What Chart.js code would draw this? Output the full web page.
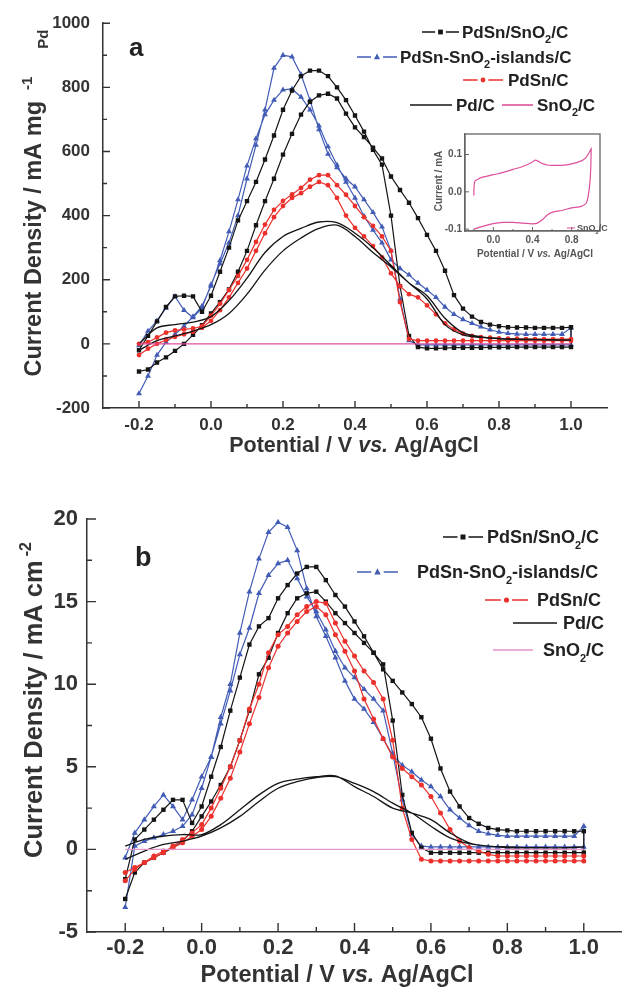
<!DOCTYPE html>
<html>
<head>
<meta charset="utf-8">
<script src="https://cdn.jsdelivr.net/npm/chart.js@4.4.1/dist/chart.umd.min.js"></script>
<style>
  body { margin: 0; background: #fff; }
  #wrap { position: relative; width: 622px; height: 997px; overflow: hidden; }
  canvas { position: absolute; left: 0; }
</style>
</head>
<body>
<div id="wrap">
  <canvas id="chartA" width="622" height="470" style="top:0"></canvas>
  <canvas id="chartB" width="622" height="527" style="top:470px"></canvas>
  <canvas id="inset" width="195" height="140" style="left:415px;top:125px"></canvas>
</div>
<script>
// potential grid (V vs Ag/AgCl), both sweeps share it
const E = [-0.2,-0.175,-0.15,-0.125,-0.1,-0.075,-0.05,-0.025,0,0.025,0.05,0.075,0.1,0.125,0.15,0.175,0.2,0.225,0.25,0.275,0.3,0.325,0.35,0.375,0.4,0.425,0.45,0.475,0.5,0.525,0.55,0.575,0.6,0.625,0.65,0.675,0.7,0.725,0.75,0.775,0.8,0.825,0.85,0.875,0.9,0.925,0.95,0.975,1.0];
const pdE = [-0.2,-0.15,-0.1,-0.05,0,0.05,0.1,0.15,0.2,0.25,0.3,0.35,0.4,0.45,0.5,0.55,0.6,0.65,0.7,0.75,0.8,0.85,0.9,0.95,1.0];
const snE = [-0.2, 1.0];

// panel a : mA mg-1 Pd  (branch 1 / branch 2 of each loop)
const aBlack1 = [-86,-80,-58,-42,-22,0,28,58,95,130,170,225,290,370,445,515,590,655,715,755,775,780,765,718,675,645,612,578,522,480,440,392,340,290,228,152,110,85,68,60,55,52,51,51,50,50,50,50,52];
const aBlack2 = [-20,25,70,115,148,150,148,100,150,225,300,385,445,505,575,650,730,790,835,852,852,835,800,760,712,662,605,559,400,180,25,-10,-14,-14,-13,-12,-12,-12,-12,-11,-11,-11,-10,-10,-10,-10,-10,-10,-10];
const aBlue1 = [-155,-100,-35,5,30,55,85,118,180,260,350,450,555,640,715,760,792,795,770,730,680,615,558,505,455,398,355,315,262,235,215,190,168,145,115,92,76,64,53,44,37,33,31,30,30,30,30,30,50];
const aBlue2 = [-5,40,72,112,148,105,82,112,185,250,315,400,515,620,730,860,900,895,840,760,668,592,550,515,490,450,410,365,290,140,10,-3,-3,-3,-3,-3,-3,-3,-3,-3,-3,-3,-3,-3,-3,-3,-3,-3,-3];
const aRed1 = [-35,-15,0,12,22,30,38,50,72,105,145,190,235,290,345,395,430,455,470,490,505,495,455,400,362,335,305,270,220,180,155,145,120,92,64,45,32,25,21,19,17,16,16,15,15,15,15,15,15];
const aRed2 = [0,5,20,35,42,45,48,55,88,125,168,212,262,318,372,418,446,466,486,512,526,526,495,465,430,395,368,335,290,130,15,10,10,10,10,10,10,10,10,10,10,10,10,10,10,10,10,10,10];
const aPd1 = [-20,10,25,40,60,95,155,230,290,330,360,370,335,285,240,190,150,80,35,22,17,15,14,13,12];
const aPd2 = [0,50,60,68,85,135,205,285,335,360,380,378,345,300,245,190,140,60,28,20,16,14,13,12,12];
const aSn = [0, 0];

// panel b : mA cm-2
const bBlack1 = [-3.0,-1.4,-0.8,-0.5,-0.2,0.1,0.5,1.1,2.0,2.9,3.9,5.0,6.6,8.4,10.6,11.6,13.1,14.3,15.2,15.5,15.6,15.0,14.3,13.7,13.1,12.5,11.9,11.2,7.8,3.3,1.0,0.1,-0.2,-0.2,-0.2,-0.2,-0.2,-0.2,-0.2,-0.2,-0.2,-0.2,-0.2,-0.2,-0.2,-0.2,-0.2,-0.2,-0.2];
const bBlack2 = [-1.8,0.6,1.2,1.8,2.4,3.0,3.0,1.6,2.6,4.4,6.2,8.4,10.4,12.4,13.5,14.0,15.2,16.0,16.7,17.1,17.1,16.3,15.4,14.7,13.8,12.9,11.9,10.9,10.2,9.5,8.8,8.0,6.7,4.9,3.5,2.6,1.9,1.55,1.3,1.2,1.15,1.1,1.1,1.1,1.1,1.1,1.1,1.1,1.1];
const bBlue1 = [-3.5,0.2,0.5,0.7,0.9,1.1,1.4,2.1,3.7,5.6,7.6,9.6,11.8,13.4,15.5,16.6,17.3,17.5,16.4,15.3,14.4,13.3,12.0,11.0,10.4,9.7,9.1,8.4,5.8,3.0,0.9,0.2,0.15,0.15,0.15,0.15,0.15,0.15,0.15,0.15,0.15,0.15,0.15,0.15,0.15,0.15,0.15,0.15,0.15];
const bBlue2 = [-0.5,1.0,1.8,2.6,3.3,2.6,1.8,3.0,4.4,5.6,8.0,10.0,13.1,15.6,17.6,19.2,19.8,19.5,18.1,15.8,14.1,12.9,11.6,10.2,9.1,8.5,7.7,6.7,5.7,5.1,4.7,4.2,3.8,3.2,2.4,1.9,1.45,1.1,0.95,0.85,0.8,0.8,0.8,0.8,0.8,0.8,0.8,0.8,1.4];
const bRed1 = [-1.9,-1.2,-0.8,-0.4,-0.1,0.1,0.4,0.8,1.2,2.0,3.1,4.3,5.9,7.6,9.2,11.0,12.3,13.1,13.8,14.4,14.7,14.2,13.0,12.0,10.8,9.1,7.9,6.7,5.6,4.9,4.4,3.9,3.2,2.2,1.2,0.5,0.1,-0.1,-0.3,-0.4,-0.4,-0.4,-0.4,-0.4,-0.4,-0.4,-0.4,-0.4,-0.4];
const bRed2 = [-1.4,-1.1,-0.8,-0.5,-0.2,0.2,0.6,1.0,1.5,2.5,3.7,5.0,6.6,8.5,10.0,11.9,13.0,13.5,14.2,14.7,15.0,14.9,13.7,12.6,11.7,10.8,10.1,9.1,6.6,2.5,0.6,-0.6,-0.7,-0.7,-0.7,-0.7,-0.7,-0.7,-0.7,-0.7,-0.7,-0.7,-0.7,-0.7,-0.7,-0.7,-0.7,-0.7,-0.7];
const bPd1 = [-0.6,-0.1,0.3,0.5,0.8,1.3,2.0,2.9,3.7,4.1,4.35,4.4,4.0,3.5,2.8,2.2,1.4,0.7,0.35,0.2,0.1,0.1,0.1,0.1,0.15];
const bPd2 = [0.2,0.6,0.8,0.9,0.9,1.5,2.4,3.3,4.0,4.25,4.4,4.45,3.8,3.2,2.5,2.2,1.8,1.0,0.4,0.2,0.15,0.1,0.1,0.1,0.15];
const bSn = [0, 0];

// inset: SnO2/C, current / mA
const insetE1 = [-0.2,-0.19,-0.15,-0.1,0,0.1,0.2,0.3,0.4,0.43,0.5,0.55,0.6,0.7,0.8,0.9,0.95,1.0];
const insetI1 = [-0.01,0.028,0.035,0.04,0.046,0.052,0.06,0.068,0.08,0.085,0.076,0.072,0.071,0.071,0.075,0.083,0.093,0.115];
const insetE2 = [1.0,0.995,0.985,0.97,0.95,0.9,0.8,0.7,0.6,0.55,0.5,0.45,0.4,0.3,0.2,0.1,0,-0.1,-0.2];
const insetI2 = [0.115,0.06,0.02,-0.01,-0.03,-0.039,-0.043,-0.05,-0.055,-0.062,-0.075,-0.084,-0.086,-0.084,-0.082,-0.082,-0.085,-0.092,-0.1];

// ticks
const xMajor = [-0.2,0,0.2,0.4,0.6,0.8,1.0];
const xMinor = [-0.1,0.1,0.3,0.5,0.7,0.9];
const aYMajor = [-200,0,200,400,600,800,1000];
const aYMinor = [-100,100,300,500,700,900];
const bYMajor = [-5,0,5,10,15,20];
const bYMinor = [-2.5,2.5,7.5,12.5,17.5];
const inXMajor = [0,0.4,0.8];
const inXMinor = [-0.2,0.2,0.6,1.0];
const inYMajor = [-0.1,0,0.1];

// names
const nPdSnSnO2 = [{t:'PdSn/SnO'},{t:'2',sub:true},{t:'/C'}];
const nIslands = [{t:'PdSn-SnO'},{t:'2',sub:true},{t:'-islands/C'}];
const nPdSn = [{t:'PdSn/C'}];
const nPd = [{t:'Pd/C'}];
const nSn = [{t:'SnO'},{t:'2',sub:true},{t:'/C'}];
const xTitle = [{t:'Potential / V '},{t:'vs.',it:true},{t:' Ag/AgCl'}];

const BLACK = '#151515', BLUE = 'rgb(66,92,182)', RED = 'rgb(236,48,44)';
const PINK_A = 'rgb(222,80,155)', PINK_B = 'rgb(228,150,205)', AXIS = '#333';
const FONT = '"Liberation Sans", Arial, sans-serif';
Chart.defaults.font.family = FONT;

function loop(xs, one, two) {
  const pts = one.map((v, i) => ({x: xs[i], y: v}));
  for (let i = xs.length - 1; i >= 0; i--) pts.push({x: xs[i], y: two[i]});
  return pts;
}

function series(data, color, style, r, width) {
  return {
    data: data, showLine: true, borderColor: color, borderWidth: width || 1.2,
    pointStyle: style || 'circle', pointRadius: style ? r : 0, pointHoverRadius: 0,
    pointBackgroundColor: color, pointBorderColor: color, pointBorderWidth: 0,
    tension: style ? 0 : 0.35, fill: false
  };
}

function rich(ctx, parts, x, y, size, align) {
  const fontOf = p => (p.it ? 'italic ' : '') + 'bold ' + ((p.sub || p.sup) ? Math.round(size * 0.62) : size) + 'px ' + FONT;
  let w = 0;
  parts.forEach(p => { ctx.font = fontOf(p); w += (p.gap || 0) + ctx.measureText(p.t).width; });
  let cx = align === 'center' ? x - w / 2 : align === 'right' ? x - w : x;
  ctx.textAlign = 'left';
  ctx.textBaseline = 'alphabetic';
  parts.forEach(p => {
    ctx.font = fontOf(p);
    cx += p.gap || 0;
    const dy = p.sub ? size * 0.28 : p.sup ? -size * 0.42 : 0;
    ctx.fillText(p.t, cx, y + dy);
    cx += ctx.measureText(p.t).width;
  });
}

function marker(ctx, kind, x, y, r) {
  ctx.beginPath();
  if (kind === 'rect') ctx.rect(x - r, y - r, 2 * r, 2 * r);
  else if (kind === 'triangle') { ctx.moveTo(x, y - r * 1.2); ctx.lineTo(x + r, y + r * 0.75); ctx.lineTo(x - r, y + r * 0.75); ctx.closePath(); }
  else ctx.arc(x, y, r, 0, Math.PI * 2);
  ctx.fill();
}

function decor(o) {
  return {
    id: 'decor',
    afterDraw(chart) {
      const ctx = chart.ctx, a = chart.chartArea, sx = chart.scales.x, sy = chart.scales.y;
      ctx.save();
      ctx.strokeStyle = o.axisColor;
      ctx.lineWidth = o.tickWidth;
      ctx.beginPath();
      const tx = (list, len) => list.forEach(v => { const p = sx.getPixelForValue(v); ctx.moveTo(p, a.bottom); ctx.lineTo(p, a.bottom - len); });
      const ty = (list, len) => list.forEach(v => { const p = sy.getPixelForValue(v); ctx.moveTo(a.left, p); ctx.lineTo(a.left + len, p); });
      tx(o.xMajor, o.major); tx(o.xMinor, o.minor);
      ty(o.yMajor, o.major); ty(o.yMinor, o.minor);
      ctx.stroke();
      if (o.box) { ctx.lineWidth = 1.3; ctx.strokeRect(a.left, a.top, a.right - a.left, a.bottom - a.top); }

      ctx.fillStyle = o.textColor;
      rich(ctx, o.xTitle, o.xTitleX - o.left, o.xTitleY - o.top + o.titleSize * 0.36, o.titleSize, 'center');
      ctx.save();
      ctx.translate(o.yTitleX - o.left, o.yTitleY - o.top);
      ctx.rotate(-Math.PI / 2);
      rich(ctx, o.yTitle, 0, o.yTitleSize * 0.36, o.yTitleSize, 'center');
      ctx.restore();

      if (o.letter) {
        ctx.fillStyle = '#222';
        ctx.font = 'bold ' + o.letter.size + 'px ' + FONT;
        ctx.textAlign = 'left'; ctx.textBaseline = 'alphabetic';
        ctx.fillText(o.letter.t, o.letter.x - o.left, o.letter.y - o.top);
      }

      (o.legend || []).forEach(it => {
        const y = it.y - o.top, x1 = it.x1 - o.left, x2 = it.x2 - o.left, m = (x1 + x2) / 2;
        ctx.strokeStyle = it.color; ctx.fillStyle = it.color;
        ctx.lineWidth = o.legendLine;
        ctx.beginPath();
        if (it.mk) {
          ctx.moveTo(x1, y); ctx.lineTo(m - it.r - 3, y);
          ctx.moveTo(m + it.r + 3, y); ctx.lineTo(x2, y);
        } else { ctx.moveTo(x1, y); ctx.lineTo(x2, y); }
        ctx.stroke();
        if (it.mk) marker(ctx, it.mk, m, y, it.r);
        ctx.fillStyle = o.legendColor;
        rich(ctx, it.label, it.tx - o.left, y + o.legendSize * 0.36, o.legendSize, 'left');
      });
      ctx.restore();
    }
  };
}

function makeChart(id, datasets, o) {
  return new Chart(document.getElementById(id), {
    type: 'scatter',
    data: { datasets: datasets },
    options: {
      responsive: false, animation: false, devicePixelRatio: 1,
      layout: { autoPadding: false, padding: o.pad },
      plugins: { legend: { display: false }, tooltip: { enabled: false } },
      scales: {
        x: {
          type: 'linear', min: o.xMin, max: o.xMax,
          grid: { display: false, drawTicks: false },
          border: { color: o.axisColor, width: o.axisWidth },
          ticks: { font: { size: o.tickSize, weight: 'bold' }, color: o.tickColor, padding: o.xPad, autoSkip: false, maxRotation: 0,
            callback: v => v.toFixed(1) },
          afterBuildTicks: s => { s.ticks = o.xMajor.map(v => ({ value: v })); },
          afterFit: s => { s.height = o.xH; }
        },
        y: {
          type: 'linear', min: o.yMin, max: o.yMax,
          grid: { display: false, drawTicks: false },
          border: { color: o.axisColor, width: o.axisWidth },
          ticks: { font: { size: o.tickSize, weight: 'bold' }, color: o.tickColor, padding: o.yPad, autoSkip: false,
            callback: o.yFmt },
          afterBuildTicks: s => { s.ticks = o.yMajor.map(v => ({ value: v })); },
          afterFit: s => { s.width = o.yW; }
        }
      }
    },
    plugins: [decor(o)]
  });
}

// ---- panel a
makeChart('chartA', [
  series(loop(snE, aSn, aSn), PINK_A, null, 0, 1.4),
  series(loop(pdE, aPd1, aPd2), BLACK, null, 0, 1.3),
  series(loop(E, aRed1, aRed2), RED, 'circle', 2.4),
  series(loop(E, aBlack1, aBlack2), BLACK, 'rect', 3.1),
  series(loop(E, aBlue1, aBlue2), BLUE, 'triangle', 3.4)
], {
  left: 0, top: 0, pad: { top: 22, right: 15, left: 0, bottom: 0 },
  xMin: -0.3, xMax: 1.1, yMin: -200, yMax: 1000, xH: 62, yW: 103,
  xPad: 7, yPad: 13, tickSize: 17, tickColor: AXIS, axisColor: AXIS, axisWidth: 1.5, tickWidth: 1.4,
  major: 7, minor: 4, xMajor: xMajor, xMinor: xMinor, yMajor: aYMajor, yMinor: aYMinor,
  yFmt: v => String(v),
  textColor: AXIS, titleSize: 21.5, yTitleSize: 23.5,
  xTitle: xTitle, xTitleX: 354, xTitleY: 444,
  yTitle: [{t:'Current Density / mA mg'},{t:'-1',sup:true,gap:11},{t:'Pd',sub:true,gap:28}], yTitleX: 33, yTitleY: 203,
  letter: { t: 'a', x: 129, y: 56, size: 26 },
  legendSize: 17, legendColor: '#222', legendLine: 1.6,
  legend: [
    { y: 32, x1: 422, x2: 459, color: BLACK, mk: 'rect', r: 2.4, tx: 462, label: nPdSnSnO2 },
    { y: 57, x1: 357, x2: 397, color: BLUE, mk: 'triangle', r: 3, tx: 400, label: nIslands },
    { y: 80, x1: 463, x2: 503, color: RED, mk: 'circle', r: 2.4, tx: 508, label: nPdSn },
    { y: 105, x1: 410, x2: 452, color: BLACK, tx: 456, label: nPd },
    { y: 105, x1: 502, x2: 533, color: PINK_A, tx: 537, label: nSn }
  ]
});

// ---- panel b
makeChart('chartB', [
  series(loop(snE, bSn, bSn), PINK_B, null, 0, 1.4),
  series(loop(pdE, bPd1, bPd2), BLACK, null, 0, 1.3),
  series(loop(E, bRed1, bRed2), RED, 'circle', 2.5),
  series(loop(E, bBlack1, bBlack2), BLACK, 'rect', 3.1),
  series(loop(E, bBlue1, bBlue2), BLUE, 'triangle', 3.5)
], {
  left: 0, top: 470, pad: { top: 49, right: 0, left: 0, bottom: 0 },
  xMin: -0.3, xMax: 1.1, yMin: -5, yMax: 20, xH: 65, yW: 87,
  xPad: 3, yPad: 9, tickSize: 22, tickColor: AXIS, axisColor: AXIS, axisWidth: 1.5, tickWidth: 1.4,
  major: 9, minor: 5, xMajor: xMajor, xMinor: xMinor, yMajor: bYMajor, yMinor: bYMinor,
  yFmt: v => String(v),
  textColor: AXIS, titleSize: 23.5, yTitleSize: 25.5,
  xTitle: xTitle, xTitleX: 337, xTitleY: 974,
  yTitle: [{t:'Current Density / mA cm'},{t:'-2',sup:true,gap:4}], yTitleX: 33, yTitleY: 700,
  letter: { t: 'b', x: 135, y: 566, size: 27 },
  legendSize: 18, legendColor: '#222', legendLine: 1.6,
  legend: [
    { y: 537, x1: 443, x2: 483, color: BLACK, mk: 'rect', r: 2.5, tx: 487, label: nPdSnSnO2 },
    { y: 572, x1: 357, x2: 398, color: BLUE, mk: 'triangle', r: 3.2, tx: 417, label: nIslands },
    { y: 600, x1: 485, x2: 528, color: RED, mk: 'circle', r: 2.6, tx: 537, label: nPdSn },
    { y: 623, x1: 513, x2: 557, color: BLACK, tx: 563, label: nPd },
    { y: 650, x1: 493, x2: 533, color: PINK_B, tx: 543, label: nSn }
  ]
});

// ---- inset (SnO2/C)
const insetPts = insetE1.map((x, i) => ({ x: x, y: insetI1[i] }))
  .concat(insetE2.map((x, i) => ({ x: x, y: insetI2[i] })));
const inset = series(insetPts, PINK_A, null, 0, 1.2);
inset.tension = 0.3;
makeChart('inset', [inset], {
  left: 415, top: 125, pad: { top: 7, right: 10, left: 0, bottom: 0 },
  xMin: -0.29, xMax: 1.09, yMin: -0.105, yMax: 0.155, xH: 34, yW: 50,
  xPad: 3, yPad: 3, tickSize: 10, tickColor: '#555', axisColor: '#666', axisWidth: 1.3, tickWidth: 1,
  major: 4, minor: 2, xMajor: inXMajor, xMinor: inXMinor, yMajor: inYMajor, yMinor: [],
  yFmt: v => v.toFixed(1), box: true,
  textColor: '#555', titleSize: 10, yTitleSize: 10,
  xTitle: xTitle, xTitleX: 535, xTitleY: 253,
  yTitle: [{t:'Current / mA'}], yTitleX: 438, yTitleY: 181,
  legendSize: 9, legendColor: '#555', legendLine: 1,
  legend: [
    { y: 228, x1: 567, x2: 575, color: PINK_A, tx: 577, label: nSn }
  ]
});
</script>
</body>
</html>
